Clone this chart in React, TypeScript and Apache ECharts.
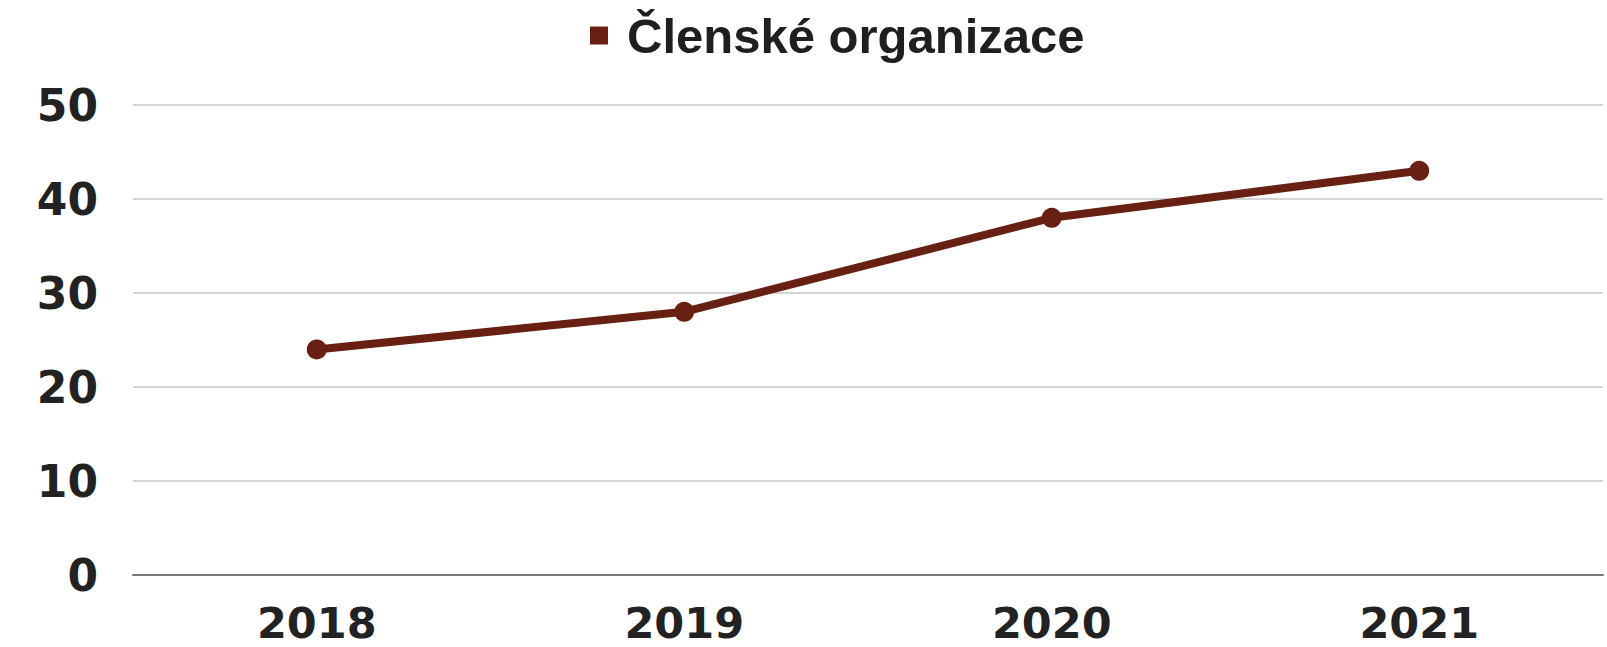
import React, { useEffect, useRef } from "react";
import * as echarts from "echarts";

const categories = ["2018", "2019", "2020", "2021"];
const seriesName = "Členské organizace";
const values = [24, 28, 38, 43];
const yTicks = { min: 0, max: 50, interval: 10 };

export default function App() {
  const ref = useRef<HTMLDivElement>(null);
  useEffect(() => {
    document.body.style.margin = "0";
    const chart = echarts.init(ref.current!, null, { renderer: "svg" });
    chart.setOption({
      animation: false,
      backgroundColor: "#ffffff",
      legend: {
        top: 6,
        left: 585,
        icon: "rect",
        itemWidth: 18,
        itemHeight: 18,
        itemGap: 20,
        textStyle: {
          fontFamily: "Liberation Sans",
          fontWeight: "bold",
          fontSize: 49,
          color: "#1f1f1f",
          padding: [0, 0, 0, 14],
        },
        data: [seriesName],
      },
      grid: { left: 133, right: 4, top: 105, bottom: 72, containLabel: false },
      xAxis: {
        type: "category",
        data: categories,
        boundaryGap: true,
        axisLine: { lineStyle: { color: "#7a7a7a", width: 2 } },
        axisTick: { show: false },
        axisLabel: {
          margin: 26,
          fontFamily: "DejaVu Sans",
          fontWeight: "bold",
          fontSize: 43,
          color: "#222222",
        },
        splitLine: { show: false },
      },
      yAxis: {
        type: "value",
        min: yTicks.min,
        max: yTicks.max,
        interval: yTicks.interval,
        axisLine: { show: false },
        axisTick: { show: false },
        axisLabel: {
          margin: 35,
          fontFamily: "DejaVu Sans",
          fontWeight: "bold",
          fontSize: 44,
          color: "#222222",
        },
        splitLine: { lineStyle: { color: "#c6c6c6", width: 1.5 } },
      },
      series: [
        {
          name: seriesName,
          type: "line",
          data: values,
          symbol: "circle",
          symbolSize: 20,
          itemStyle: { color: "#682012" },
          lineStyle: { color: "#682012", width: 8 },
        },
      ],
    });
    return () => chart.dispose();
  }, []);
  return <div ref={ref} style={{ width: 1607, height: 647 }} />;
}
